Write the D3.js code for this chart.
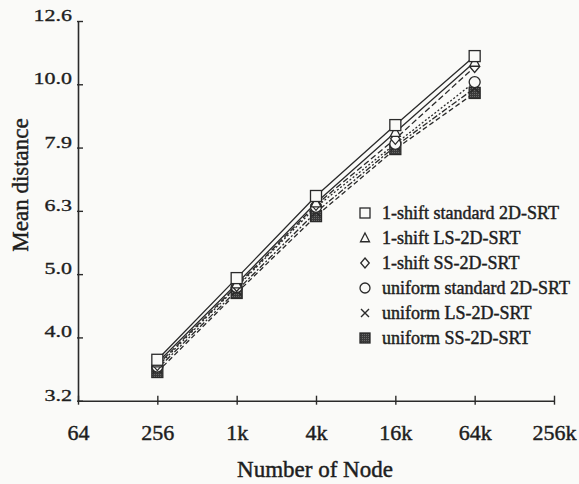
<!DOCTYPE html>
<html>
<head>
<meta charset="utf-8">
<script src="https://cdn.jsdelivr.net/npm/d3@7"></script>
<style>
  html, body { margin: 0; padding: 0; background: #fafaf8; }
  svg { display: block; font-family: "Liberation Serif", "Times New Roman", serif; }
  svg text { stroke: #1e1e1e; stroke-width: 0.45px; paint-order: stroke; }
</style>
</head>
<body>
<svg id="chart" width="579" height="484"></svg>
<script>
// ---- data ----
const nodes = [256, 1024, 4096, 16384, 65536];
const seriesNames = [
  "1-shift standard 2D-SRT",
  "1-shift LS-2D-SRT",
  "1-shift SS-2D-SRT",
  "uniform standard 2D-SRT",
  "uniform LS-2D-SRT",
  "uniform SS-2D-SRT"
];
const shiftStandard = [3.67, 4.94, 6.66, 8.62, 11.08];
const shiftLS       = [3.63, 4.84, 6.50, 8.40, 10.84];
const shiftSS       = [3.60, 4.80, 6.45, 8.20, 10.65];
const uniStandard   = [3.58, 4.78, 6.40, 8.05, 10.08];
const uniLS         = [3.55, 4.72, 6.28, 7.98, 9.86];
const uniSS         = [3.51, 4.68, 6.19, 7.90, 9.69];
const xTickValues = [64, 256, 1024, 4096, 16384, 65536, 262144];
const xTickLabels = ["64", "256", "1k", "4k", "16k", "64k", "256k"];
const yTickValues = [3.1623, 3.9811, 5.0119, 6.3096, 7.9433, 10, 12.589];
const yTickLabels = ["3.2", "4.0", "5.0", "6.3", "7.9", "10.0", "12.6"];

const allSeries = [shiftStandard, shiftLS, shiftSS, uniStandard, uniLS, uniSS];
const markers = ["square", "triangle", "diamond", "circle", "cross", "filled"];
const dashes = [null, null, "6,3", "2,2", "6,2,2,2", "5,3"];

const svg = d3.select("#chart");
const ink = "#2a2a2a";

const x = d3.scaleLog().base(2).domain([64, 262144]).range([78, 554]);
const y = d3.scaleLog().domain([3.1623, 12.589]).range([400.7, 21]);

// ---- axes ----
const xAxis = d3.axisBottom(x).tickValues(xTickValues)
  .tickFormat((d, i) => xTickLabels[i]).tickSizeInner(4).tickSizeOuter(0).tickPadding(20);
const gx = svg.append("g").attr("transform", "translate(0,400.7)").call(xAxis);
gx.select(".domain").attr("stroke", ink).attr("stroke-width", 1.6);
gx.selectAll(".tick line").attr("y1", -5).attr("y2", 4).attr("stroke", ink).attr("stroke-width", 1.4);
gx.selectAll(".tick text").attr("font-size", 22).attr("fill", "#1e1e1e")
  .attr("font-family", "Liberation Serif").attr("dy", 0).attr("y", 39);

const yAxis = d3.axisLeft(y).tickValues(yTickValues)
  .tickFormat((d, i) => yTickLabels[i]).tickSizeInner(-5).tickSizeOuter(0).tickPadding(6);
const gy = svg.append("g").attr("transform", "translate(78,0)").call(yAxis);
gy.select(".domain").attr("stroke", ink).attr("stroke-width", 1.6);
gy.selectAll(".tick line").attr("x1", -1).attr("x2", 5).attr("stroke", ink).attr("stroke-width", 1.4);
gy.selectAll(".tick text").attr("font-size", 22).attr("fill", "#1e1e1e")
  .attr("font-family", "Liberation Serif").attr("dy", 0).attr("x", 0)
  .attr("transform", "translate(-6,-0.5) scale(1,0.78)");

// axis titles
svg.append("text").attr("x", 315).attr("y", 477).attr("text-anchor", "middle")
  .attr("font-size", 23).attr("fill", "#1e1e1e").text("Number of Node");
svg.append("text").attr("transform", "translate(28,185) rotate(-90)").attr("text-anchor", "middle")
  .attr("font-size", 23).attr("fill", "#1e1e1e").text("Mean distance");

// ---- lines ----
const line = d3.line().x((d, i) => x(nodes[i])).y(d => y(d));
allSeries.forEach((s, k) => {
  svg.append("path").datum(s).attr("d", line).attr("fill", "none")
    .attr("stroke", ink).attr("stroke-width", 1.3)
    .attr("stroke-dasharray", dashes[k]);
});

// ---- markers ----
function drawMarker(g, type, cx, cy, sz) {
  const h = sz / 2;
  if (type === "square") {
    g.append("rect").attr("x", cx - h).attr("y", cy - h).attr("width", sz).attr("height", sz)
      .attr("fill", "#fafaf8").attr("stroke", ink).attr("stroke-width", 1.3);
  } else if (type === "filled") {
    g.append("rect").attr("x", cx - h).attr("y", cy - h).attr("width", sz).attr("height", sz)
      .attr("fill", "url(#stipple)").attr("stroke", ink).attr("stroke-width", 1.3);
  } else if (type === "triangle") {
    g.append("path").attr("d", `M${cx},${cy - h} L${cx + h * 0.9},${cy + h * 0.75} L${cx - h * 0.9},${cy + h * 0.75} Z`)
      .attr("fill", "#fafaf8").attr("stroke", ink).attr("stroke-width", 1.3);
  } else if (type === "diamond") {
    g.append("path").attr("d", `M${cx},${cy - h} L${cx + h * 0.85},${cy} L${cx},${cy + h} L${cx - h * 0.85},${cy} Z`)
      .attr("fill", "#fafaf8").attr("stroke", ink).attr("stroke-width", 1.3);
  } else if (type === "circle") {
    g.append("circle").attr("cx", cx).attr("cy", cy).attr("r", h)
      .attr("fill", "#fafaf8").attr("stroke", ink).attr("stroke-width", 1.3);
  } else if (type === "cross") {
    g.append("path").attr("d", `M${cx - h * 0.8},${cy - h * 0.8} L${cx + h * 0.8},${cy + h * 0.8} M${cx - h * 0.8},${cy + h * 0.8} L${cx + h * 0.8},${cy - h * 0.8}`)
      .attr("fill", "none").attr("stroke", ink).attr("stroke-width", 1.4);
  }
}

const defs = svg.append("defs");
const pat = defs.append("pattern").attr("id", "stipple").attr("width", 2).attr("height", 2)
  .attr("patternUnits", "userSpaceOnUse");
pat.append("rect").attr("width", 2).attr("height", 2).attr("fill", "#3a3a3a");
pat.append("rect").attr("width", 1).attr("height", 1).attr("fill", "#6a6a6a");

const mg = svg.append("g");
[5, 4, 3, 2, 1, 0].forEach(k => {
  allSeries[k].forEach((v, i) => drawMarker(mg, markers[k], x(nodes[i]), y(v), 11));
});

// ---- legend ----
const lg = svg.append("g");
seriesNames.forEach((name, k) => {
  const cy = 213 + k * 25;
  drawMarker(lg, markers[k], 365, cy, 10);
  lg.append("text").attr("x", 382).attr("y", cy + 6).attr("font-size", 18)
    .attr("fill", "#1e1e1e").text(name);
});
</script>
</body>
</html>
